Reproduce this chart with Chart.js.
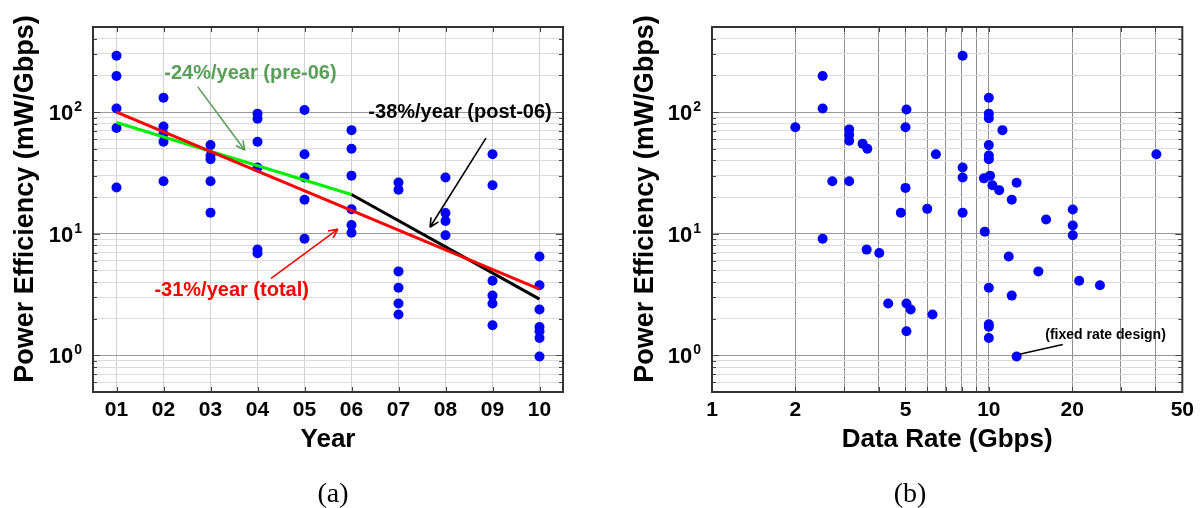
<!DOCTYPE html>
<html>
<head>
<meta charset="utf-8">
<script src="https://cdn.jsdelivr.net/npm/chart.js@4.4.0/dist/chart.umd.min.js"></script>
<style>
  html, body { margin: 0; padding: 0; background: #fff; }
  #wrap { position: relative; width: 1200px; height: 508px; }
  #wrap canvas { position: absolute; top: 0; }
  #yearChart { left: 0; }
  #rateChart { left: 600px; }
</style>
</head>
<body>
<div id="wrap">
  <canvas id="yearChart" width="600" height="508"></canvas>
  <canvas id="rateChart" width="600" height="508"></canvas>
</div>
<script>
// (a) power efficiency by publication year
const yearOfPaper = [1,1,1,1,1, 2,2,2,2,2, 3,3,3,3,3, 4,4,4,4,4,4, 5,5,5,5,5,
                     6,6,6,6,6,6, 7,7,7,7,7,7, 8,8,8,8, 9,9,9,9,9,9, 10,10,10,10,10,10,10];
const effByYear = [290,198,107,74,24, 131,76,66,57,27, 53.5,44,41,27,14.9, 97,88,57,35,7.4,6.9, 104,45,29,19,9.1,
                   71,50,30,15.9,11.8,10.2, 26.4,23,4.9,3.6,2.67,2.17, 29,14.8,12.7,9.7, 45,25,4.1,3.1,2.67,1.77,
                   6.5,3.77,2.38,1.71,1.58,1.39,0.98];

// fitted trends (start / end)
const totalFitX = [1, 10];
const totalFitY = [100, 3.5];
const preFitX = [1, 6];
const preFitY = [82, 21];
const postFitX = [6, 10];
const postFitY = [21, 2.9];

// (b) power efficiency by data rate
const dataRate = [2.0,2.51,2.51,2.72,3.13,3.13,3.13,3.13,3.5,3.64, 5.04,5.0,5.0,4.81,5.99,8.04,10,10,10,11.2,
                  6.44,10,10,10,8.04,8.04,9.6,10.1,10.3,10.9, 12.6,12.1,20.1,16.1,8.04,40.3,9.67,20.1,20.1,11.8,
                  15.1,21.2,25.2,10,12.1,6.26,10,10,10,12.6, 2.51,3.62,4.02,4.33,5.04,5.22,5.04];
const effByRate = [75,198,107,27,72,65,58,27,55,50, 105,75,23.8,14.9,16,290,131,97,89,71,
                   45,53.5,44,41,35,29,28.5,30,25,22.8, 26.2,19,15.8,13.1,14.9,45,10.4,11.7,9.7,6.5,
                   4.9,4.1,3.77,3.6,3.1,2.17,1.8,1.72,1.39,0.98, 9.1,7.4,6.95,2.67,2.67,2.38,1.58];

// axes
const yearTicks = [1,2,3,4,5,6,7,8,9,10];
const yearLabels = ['01','02','03','04','05','06','07','08','09','10'];
const rateTicks = [1,2,3,4,5,6,7,8,9,10,20,30,40,50];
const rateLabels = [1,2,5,10,20,50];
const effTicks = [0.5,0.6,0.7,0.8,0.9,1,2,3,4,5,6,7,8,9,10,20,30,40,50,60,70,80,90,100,200,300,400,500];
const effMajor = [1,10,100];
const effTitle = 'Power Efficiency (mW/Gbps)';

const SANS = '"Liberation Sans", Arial, sans-serif';
const SERIF = '"Liberation Serif", "Times New Roman", serif';

const pts = (xs, ys) => xs.map((x, i) => ({x: x, y: ys[i]}));

// frame, inward ticks, 10^n labels, y title and sub-figure caption
function framePlugin(caption, captionX, titleX) {
  return {
    id: 'frame',
    afterDraw(chart) {
      const {ctx, chartArea: a, scales: {x, y}} = chart;
      ctx.save();
      ctx.strokeStyle = '#444';
      ctx.lineWidth = 1;
      ctx.beginPath();
      y.ticks.forEach(t => {
        const py = Math.round(y.getPixelForValue(t.value)) + 0.5;
        const len = effMajor.includes(t.value) ? 7 : 4;
        ctx.moveTo(a.left, py); ctx.lineTo(a.left + len, py);
        ctx.moveTo(a.right, py); ctx.lineTo(a.right - len, py);
      });
      x.ticks.forEach(t => {
        const px = Math.round(x.getPixelForValue(t.value)) + 0.5;
        ctx.moveTo(px, a.top); ctx.lineTo(px, a.top + 5);
        ctx.moveTo(px, a.bottom); ctx.lineTo(px, a.bottom - 5);
      });
      ctx.stroke();

      ctx.strokeStyle = '#333';
      ctx.lineWidth = 2;
      ctx.strokeRect(a.left, a.top, a.right - a.left, a.bottom - a.top);

      ctx.fillStyle = '#000';
      ctx.textAlign = 'right';
      ctx.textBaseline = 'alphabetic';
      effMajor.forEach(v => {
        const py = y.getPixelForValue(v);
        const exp = String(Math.round(Math.log10(v)));
        ctx.font = 'bold 14px ' + SANS;
        const ew = ctx.measureText(exp).width;
        ctx.fillText(exp, a.left - 11, py - 1);
        ctx.font = 'bold 22px ' + SANS;
        ctx.fillText('10', a.left - 12 - ew, py + 8);
      });

      ctx.save();
      ctx.translate(titleX, 199);
      ctx.rotate(-Math.PI / 2);
      ctx.textAlign = 'center';
      ctx.textBaseline = 'middle';
      ctx.font = 'bold 27px ' + SANS;
      ctx.fillText(effTitle, 0, 0);
      ctx.restore();

      ctx.textAlign = 'center';
      ctx.font = '28px ' + SERIF;
      ctx.fillText(caption, captionX, 502);
      ctx.restore();
    }
  };
}

// text notes with arrows, placed in data units
function notesPlugin(notes) {
  return {
    id: 'notes',
    afterDatasetsDraw(chart) {
      const {ctx, scales: {x, y}} = chart;
      ctx.save();
      notes.forEach(n => {
        const fx = x.getPixelForValue(n.from[0]), fy = y.getPixelForValue(n.from[1]);
        const tx = x.getPixelForValue(n.to[0]), ty = y.getPixelForValue(n.to[1]);
        ctx.strokeStyle = n.color;
        ctx.lineWidth = 1.6;
        ctx.beginPath();
        ctx.moveTo(fx, fy); ctx.lineTo(tx, ty);
        if (n.head) {
          const ang = Math.atan2(ty - fy, tx - fx);
          [0.45, -0.45].forEach(d => {
            ctx.moveTo(tx, ty);
            ctx.lineTo(tx - 10 * Math.cos(ang + d), ty - 10 * Math.sin(ang + d));
          });
        }
        ctx.stroke();
        ctx.fillStyle = n.color;
        ctx.font = n.font;
        ctx.textAlign = 'center';
        ctx.textBaseline = 'middle';
        ctx.fillText(n.text, x.getPixelForValue(n.at[0]), y.getPixelForValue(n.at[1]));
      });
      ctx.restore();
    }
  };
}

function effAxis(width) {
  return {
    type: 'logarithmic',
    min: 0.5,
    max: 500,
    afterBuildTicks: s => { s.ticks = effTicks.map(v => ({value: v})); },
    afterFit: s => { s.width = width; },
    border: {display: false},
    grid: {
      drawTicks: false,
      color: c => effMajor.includes(c.tick && c.tick.value) ? '#9a9a9a' : '#dcdcdc'
    },
    ticks: {display: false}
  };
}

function bottomAxis(extra) {
  return Object.assign({
    afterFit: s => { s.height = 63; },
    border: {display: false},
    grid: {drawTicks: false},
    ticks: {
      color: '#000',
      padding: 6,
      autoSkip: false,
      maxRotation: 0,
      font: {family: SANS, size: 21, weight: 'bold'}
    },
    title: {display: true, color: '#000', padding: 0, font: {family: SANS, size: 26, weight: 'bold'}}
  }, extra);
}

const dotStyle = {backgroundColor: '#0000ff', borderColor: '#0000ff', borderWidth: 0, pointRadius: 5};
const fitStyle = {type: 'line', borderWidth: 3, pointRadius: 0, fill: false};

// ---- chart (a)
const xYear = bottomAxis({type: 'linear', min: 0.5, max: 10.5,
  afterBuildTicks: s => { s.ticks = yearTicks.map(v => ({value: v})); }});
xYear.grid.color = '#d2d2d2';
xYear.ticks.callback = (v, i) => yearLabels[i];
xYear.title.text = 'Year';

new Chart(document.getElementById('yearChart'), {
  type: 'scatter',
  data: {
    datasets: [
      Object.assign({data: pts(totalFitX, totalFitY), borderColor: '#ff0000'}, fitStyle),
      Object.assign({data: pts(preFitX, preFitY), borderColor: '#00ee00'}, fitStyle),
      Object.assign({data: pts(postFitX, postFitY), borderColor: '#000000'}, fitStyle),
      Object.assign({data: pts(yearOfPaper, effByYear)}, dotStyle)
    ]
  },
  options: {
    responsive: false,
    animation: false,
    layout: {padding: {left: 10, top: 27, right: 37, bottom: 53}},
    plugins: {legend: {display: false}, tooltip: {enabled: false}},
    scales: {x: xYear, y: effAxis(83)}
  },
  plugins: [
    framePlugin('(a)', 333, 26),
    notesPlugin([
      {text: '-24%/year (pre-06)', color: '#5a9e5a', font: 'bold 20px ' + SANS,
       at: [3.85, 209], from: [2.73, 161], to: [3.73, 48.6], head: true},
      {text: '-38%/year (post-06)', color: '#000', font: 'bold 20px ' + SANS,
       at: [8.31, 100], from: [8.86, 61], to: [7.67, 11.3], head: true},
      {text: '-31%/year (total)', color: '#ff0000', font: 'bold 20px ' + SANS,
       at: [3.45, 3.43], from: [4.29, 4.3], to: [5.71, 10.9], head: true}
    ])
  ]
});

// ---- chart (b)
const xRate = bottomAxis({type: 'logarithmic', min: 1, max: 50,
  afterBuildTicks: s => { s.ticks = rateTicks.map(v => ({value: v})); }});
xRate.grid.color = '#8e8e8e';
xRate.ticks.callback = v => rateLabels.includes(v) ? String(v) : '';
xRate.title.text = 'Data Rate (Gbps)';

new Chart(document.getElementById('rateChart'), {
  type: 'scatter',
  data: {
    datasets: [Object.assign({data: pts(dataRate, effByRate)}, dotStyle)]
  },
  options: {
    responsive: false,
    animation: false,
    layout: {padding: {left: 30, top: 27, right: 17, bottom: 53}},
    plugins: {legend: {display: false}, tooltip: {enabled: false}},
    scales: {x: xRate, y: effAxis(82)}
  },
  plugins: [
    framePlugin('(b)', 310, 46),
    notesPlugin([
      {text: '(fixed rate design)', color: '#000', font: 'bold 14px ' + SANS,
       at: [26.4, 1.46], from: [12.9, 1.02], to: [18.5, 1.23], head: false}
    ])
  ]
});
</script>
</body>
</html>
